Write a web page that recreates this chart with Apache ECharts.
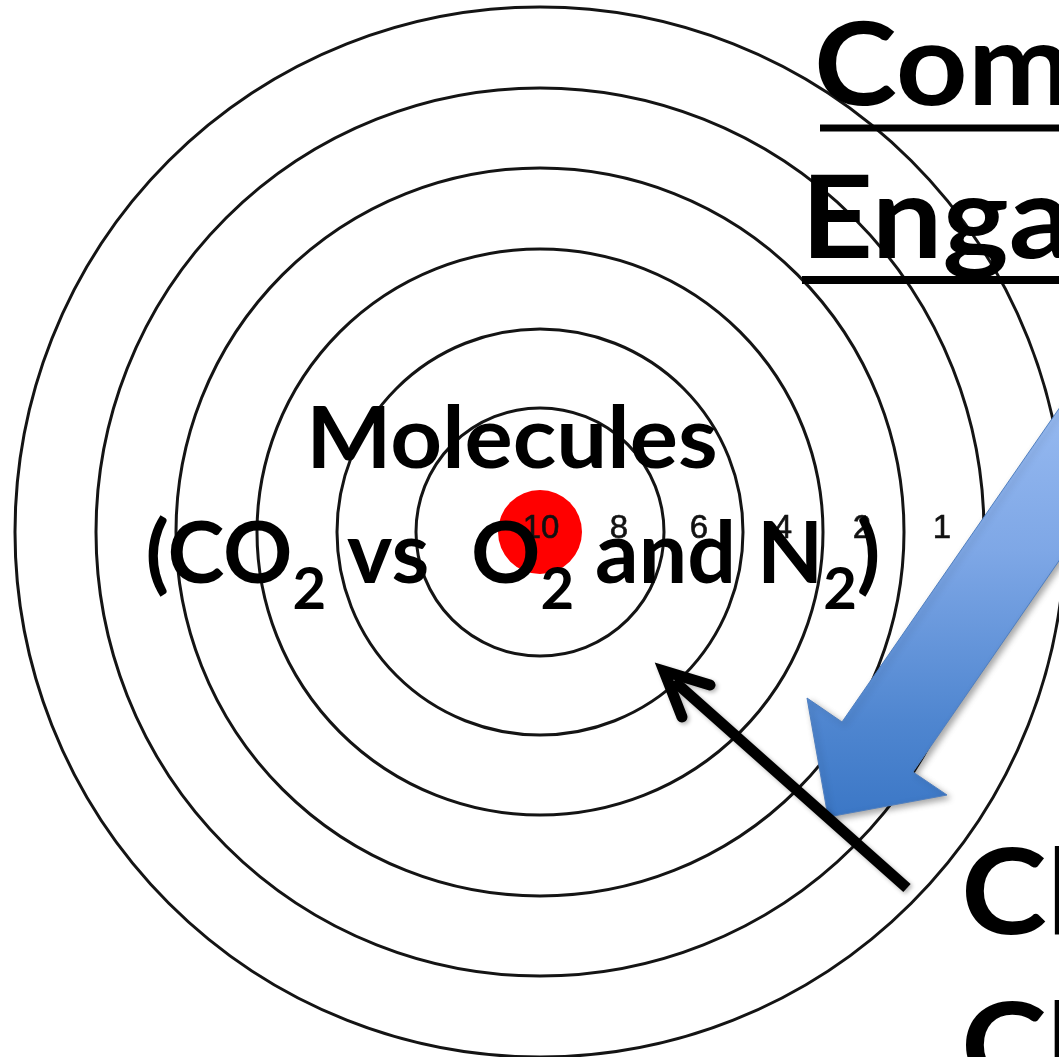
<!DOCTYPE html>
<html>
<head>
<meta charset="utf-8">
<script src="https://cdn.jsdelivr.net/npm/echarts@6/dist/echarts.min.js"></script>
<style>
html,body{margin:0;padding:0;background:#ffffff;overflow:hidden}
#chart{width:1059px;height:1057px}
</style>
</head>
<body>
<div id="chart"></div>
<script>
// ---------------- data ----------------
const targetCenter = [540, 532];
const ringRadii = [124, 203, 283, 364, 444, 525];
const bullRadius = [42];
const scoreLabels = ['10', '8', '6', '4', '2', '1'];
const scoreX = [541, 619, 699, 783, 862, 942];
const scoreY = [529, 529, 529, 529, 529, 529];
const centerTitle = ['Molecules'];
const centerSubtitle = ['(CO', '2', ' vs  O', '2', ' and N', '2', ')'];
const topTitle = ['Community', 'Engagement'];
const bottomTitle = ['Climate', 'Change'];

// ---------------- annotation geometry (data space = pixel space) ----------------
const blueArrowPts = [[1110, 335], [842, 722], [807, 698], [828, 817], [947, 795], [913, 772], [1110, 487]];
const blackShaftPts = [[907, 888], [674, 681]];
const blackHeadPts = [[710, 685], [664, 671], [682, 717]];

const W = 1059, H = 1057;
const chart = echarts.init(document.getElementById('chart'), null, { renderer: 'canvas' });

function ringItem(params, api) {
  const c = api.coord([api.value(0), api.value(1)]);
  const r = api.size([api.value(2), 0])[0];
  return { type: 'circle', shape: { cx: c[0], cy: c[1], r: r },
           style: { fill: 'none', stroke: '#141414', lineWidth: 3 } };
}
function bullItem(params, api) {
  const c = api.coord([api.value(0), api.value(1)]);
  const r = api.size([api.value(2), 0])[0];
  return { type: 'circle', shape: { cx: c[0], cy: c[1], r: r },
           style: { fill: '#ff0000', stroke: null } };
}
function scoreItem(params, api) {
  const c = api.coord([api.value(0), api.value(1)]);
  return { type: 'text', x: c[0], y: c[1],
           style: { text: scoreLabels[params.dataIndex], fontFamily: '"Liberation Sans", Arial, sans-serif',
                    fontSize: 33, fill: '#111', stroke: '#111', lineWidth: 0.6,
                    align: 'center', verticalAlign: 'middle' } };
}
const boldFont = 'Lato, "Open Sans", sans-serif';

const textSpecs = [
  { pos: [512, 440], text: centerTitle[0], size: 86, align: 'center', sx: 1.05 },
  { pos: [814, 68], text: topTitle[0], size: 114, align: 'left', sx: 1.1 },
  { pos: [801, 221], text: topTitle[1], size: 114, align: 'left', sx: 1.1 },
  { pos: [961, 896], text: bottomTitle[0], size: 118, align: 'left', sx: 1.1 },
  { pos: [961, 1050], text: bottomTitle[1], size: 118, align: 'left', sx: 1.1 }
];

function textItem(params, api) {
  const s = textSpecs[params.dataIndex];
  const c = api.coord([api.value(0), api.value(1)]);
  return { type: 'text', x: c[0], y: c[1], scaleX: s.sx, scaleY: 1,
           style: { text: s.text, fontFamily: boldFont, fontWeight: 'bold', fontSize: s.size,
                    fill: '#000', align: s.align, verticalAlign: 'middle' } };
}

function subtitleItem(params, api) {
  const c = api.coord([api.value(0), api.value(1)]);
  let str = '';
  centerSubtitle.forEach(function (t, i) { str += (i % 2 === 0 ? '{a|' : '{s|') + t + '}'; });
  return { type: 'text', x: c[0], y: c[1],
           style: { text: str, align: 'center', verticalAlign: 'middle', fill: '#000',
                    rich: {
                      a: { fontFamily: boldFont, fontWeight: 'bold', fontSize: 86, lineHeight: 100, fill: '#000' },
                      s: { fontFamily: boldFont, fontWeight: 'bold', fontSize: 58, lineHeight: 100, fill: '#000', padding: [70, 0, 0, 0] }
                    } } };
}

function underlineItem(params, api) {
  const a = api.coord([api.value(0), api.value(1)]);
  const b = api.coord([api.value(2), api.value(1)]);
  return { type: 'line', shape: { x1: a[0], y1: a[1], x2: b[0], y2: b[1] },
           style: { stroke: '#000', lineWidth: api.value(3) } };
}

function blueArrowItem(params, api) {
  const pts = blueArrowPts.map(function (p) { return api.coord(p); });
  return { type: 'polygon', shape: { points: pts },
           style: {
             fill: new echarts.graphic.LinearGradient(0, 0, 0, 1, [
               { offset: 0, color: '#a2c2f5' },
               { offset: 0.45, color: '#7ea7e6' },
               { offset: 0.8, color: '#4f86d0' },
               { offset: 1, color: '#3b77c6' }
             ]),
             stroke: '#4f7fc0', lineWidth: 1,
             shadowBlur: 6, shadowColor: 'rgba(0,0,0,0.35)', shadowOffsetX: 3, shadowOffsetY: 3
           } };
}
function blackArrowItem(params, api) {
  const shaft = blackShaftPts.map(function (p) { return api.coord(p); });
  const head = blackHeadPts.map(function (p) { return api.coord(p); });
  return { type: 'group', children: [
    { type: 'polyline', shape: { points: shaft },
      style: { stroke: '#000', lineWidth: 11, lineCap: 'butt', fill: null,
               shadowBlur: 4, shadowColor: 'rgba(0,0,0,0.3)', shadowOffsetX: 2, shadowOffsetY: 2 } },
    { type: 'polyline', shape: { points: head },
      style: { stroke: '#000', lineWidth: 11, lineCap: 'round', lineJoin: 'miter', miterLimit: 10, fill: null,
               shadowBlur: 4, shadowColor: 'rgba(0,0,0,0.3)', shadowOffsetX: 2, shadowOffsetY: 2 } }
  ] };
}

const option = {
  animation: false,
  backgroundColor: '#ffffff',
  grid: { left: 0, right: 0, top: 0, bottom: 0, containLabel: false },
  xAxis: { type: 'value', min: 0, max: W, show: false },
  yAxis: { type: 'value', min: 0, max: H, inverse: true, show: false },
  series: [
    { type: 'custom', name: 'rings', renderItem: ringItem, clip: false, silent: true, z: 1,
      encode: { x: 0, y: 1 },
      data: ringRadii.map(function (r) { return [targetCenter[0], targetCenter[1], r]; }) },
    { type: 'custom', name: 'bull', renderItem: bullItem, clip: false, silent: true, z: 2,
      encode: { x: 0, y: 1 },
      data: bullRadius.map(function (r) { return [targetCenter[0], targetCenter[1], r]; }) },
    { type: 'custom', name: 'scores', renderItem: scoreItem, clip: false, silent: true, z: 3,
      encode: { x: 0, y: 1 },
      data: scoreX.map(function (x, i) { return [x, scoreY[i]]; }) },
    { type: 'custom', name: 'blueArrow', renderItem: blueArrowItem, clip: false, silent: true, z: 4,
      encode: { x: 0, y: 1 }, data: [[blueArrowPts[0][0], blueArrowPts[0][1]]] },
    { type: 'custom', name: 'blackArrow', renderItem: blackArrowItem, clip: false, silent: true, z: 5,
      encode: { x: 0, y: 1 }, data: [[blackShaftPts[0][0], blackShaftPts[0][1]]] },
    { type: 'custom', name: 'texts', renderItem: textItem, clip: false, silent: true, z: 6,
      encode: { x: 0, y: 1 }, data: textSpecs.map(function (s) { return s.pos; }) },
    { type: 'custom', name: 'subtitle', renderItem: subtitleItem, clip: false, silent: true, z: 6,
      encode: { x: 0, y: 1 }, data: [[513, 555]] },
    { type: 'custom', name: 'underlines', renderItem: underlineItem, clip: false, silent: true, z: 6,
      encode: { x: 0, y: 1 }, data: [[820, 128, 1070, 7], [802, 280, 1070, 8]] }
  ]
};
chart.setOption(option);
</script>
</body>
</html>
